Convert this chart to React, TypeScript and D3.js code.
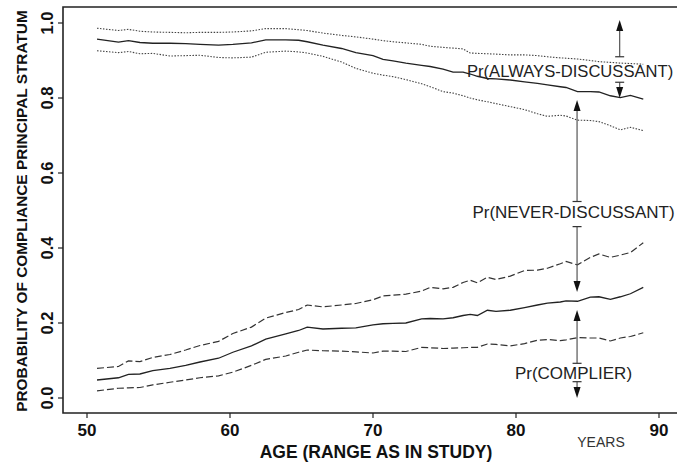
import React, { useRef, useEffect } from "react";
import * as d3 from "d3";

const ages = [
  50.7, 52.2, 52.9, 53.7, 54.6, 55.8, 56.9, 57.9, 59.2, 60.2, 61.5, 62.5, 63.9, 64.8, 65.4,
  66.5, 67.8, 68.8, 70.0, 70.7, 71.4, 72.3, 73.4, 74.0, 74.9, 75.6, 76.3, 76.8, 77.3, 78.0,
  78.6, 79.6, 80.6, 81.5, 82.2, 83.1, 83.5, 84.3, 85.2, 85.8, 86.6, 87.3, 88.0, 88.9,
];

// upper boundary: 1 - Pr(always-discussant), with band
const alwaysMid = [
  0.957, 0.949, 0.953, 0.948, 0.946, 0.946, 0.945, 0.943, 0.941, 0.943, 0.947, 0.955, 0.955, 0.954, 0.95,
  0.941, 0.932, 0.921, 0.913, 0.903, 0.899, 0.893, 0.887, 0.884, 0.877, 0.869, 0.869, 0.864, 0.858, 0.852,
  0.851, 0.848, 0.843, 0.839, 0.835, 0.83, 0.828, 0.817, 0.817, 0.816, 0.806, 0.801, 0.807, 0.797,
];
const alwaysHi = [
  0.986, 0.98, 0.983, 0.978, 0.976, 0.975, 0.974, 0.975, 0.975, 0.976, 0.979, 0.985, 0.985, 0.982, 0.98,
  0.973, 0.967, 0.963, 0.957, 0.953, 0.95, 0.947, 0.943, 0.938, 0.935, 0.933, 0.931, 0.92, 0.919, 0.918,
  0.917, 0.915, 0.915, 0.913, 0.91, 0.907, 0.906, 0.904, 0.9, 0.897, 0.895, 0.893, 0.892, 0.89,
];
const alwaysLo = [
  0.926, 0.921, 0.924, 0.918, 0.919, 0.912, 0.913, 0.914, 0.908, 0.907, 0.909, 0.922, 0.925, 0.923, 0.92,
  0.911, 0.896, 0.879, 0.866, 0.861, 0.857, 0.849, 0.838, 0.83, 0.817, 0.813, 0.806, 0.8, 0.795, 0.79,
  0.785, 0.777, 0.769, 0.758, 0.751, 0.754, 0.752, 0.741, 0.74, 0.737, 0.726, 0.715, 0.722, 0.713,
];

// lower boundary: Pr(complier), with band
const complierMid = [
  0.048, 0.054, 0.063, 0.064, 0.073, 0.079, 0.087, 0.096, 0.106, 0.122, 0.139, 0.157, 0.171, 0.18, 0.189,
  0.184, 0.186, 0.187, 0.195, 0.198, 0.199, 0.2, 0.211, 0.212, 0.211, 0.214, 0.22, 0.223, 0.22, 0.234,
  0.231, 0.234, 0.241, 0.248, 0.253, 0.256, 0.259, 0.258, 0.269, 0.27, 0.263, 0.27, 0.278, 0.295,
];
const complierHi = [
  0.079, 0.084, 0.099, 0.097, 0.108, 0.116, 0.128, 0.14, 0.151, 0.172, 0.189, 0.213, 0.228, 0.236, 0.248,
  0.243, 0.248, 0.252, 0.262, 0.272, 0.274, 0.277, 0.285, 0.295, 0.291, 0.295, 0.308, 0.314, 0.307, 0.322,
  0.316, 0.325, 0.34, 0.341, 0.346, 0.358, 0.364, 0.355, 0.375, 0.384, 0.375, 0.381, 0.388, 0.414,
];
const complierLo = [
  0.019, 0.026, 0.027, 0.028, 0.035, 0.042, 0.048, 0.054, 0.059, 0.069, 0.087, 0.103, 0.112, 0.122, 0.128,
  0.126, 0.125, 0.123, 0.12, 0.125, 0.125, 0.124, 0.135, 0.134, 0.132, 0.133, 0.134, 0.135, 0.135, 0.144,
  0.143, 0.139, 0.145, 0.154, 0.156, 0.153, 0.155, 0.161, 0.16, 0.16, 0.152, 0.16, 0.164, 0.174,
];

const xTicks = [50, 60, 70, 80, 90];
const yTicks = [0, 0.2, 0.4, 0.6, 0.8, 1.0];

// double arrows marking each stratum
const strata = [
  { label: "Pr(ALWAYS-DISCUSSANT)", age: 87.25, top: 1.008, gapTop: 0.91, mid: 0.872, gapBot: 0.842, bottom: 0.8 },
  { label: "Pr(NEVER-DISCUSSANT)", age: 84.27, top: 0.795, gapTop: 0.524, mid: 0.497, gapBot: 0.457, bottom: 0.283 },
  { label: "Pr(COMPLIER)", age: 84.27, top: 0.235, gapTop: 0.0925, mid: 0.0667, gapBot: 0.0435, bottom: 0.0 },
];
const labelAge = 84.02;

const App = () => {
  const ref = useRef(null);

  useEffect(() => {
    const width = 677;
    const height = 465;
    const svg = d3.select(ref.current).attr("width", width).attr("height", height);
    svg.selectAll("*").remove();

    const x = d3.scaleLinear().domain([50, 90]).range([87, 659]);
    const y = d3.scaleLinear().domain([0, 1]).range([398, 23]);
    const left = 63, top = 7, bottom = 413;

    svg.append("rect").attr("width", width).attr("height", height).attr("fill", "white");

    // frame (right side runs off the picture)
    svg.append("path")
      .attr("d", `M${width + 5},${top}H${left}V${bottom}H${width + 5}`)
      .attr("fill", "none").attr("stroke", "#222").attr("stroke-width", 1.6);

    const font = "'Liberation Sans', Arial, Helvetica, sans-serif";

    // x ticks
    const gx = svg.append("g");
    xTicks.forEach((t) => {
      gx.append("line").attr("x1", x(t)).attr("x2", x(t)).attr("y1", bottom).attr("y2", bottom + 5)
        .attr("stroke", "#222").attr("stroke-width", 1.2);
      gx.append("text").attr("x", x(t)).attr("y", 436).attr("text-anchor", "middle")
        .attr("font-family", font).attr("font-weight", "bold").attr("font-size", 17).attr("fill", "#111")
        .text(t);
    });

    // y ticks (labels rotated)
    const gy = svg.append("g");
    yTicks.forEach((t) => {
      gy.append("line").attr("x1", left - 5).attr("x2", left).attr("y1", y(t)).attr("y2", y(t))
        .attr("stroke", "#222").attr("stroke-width", 1.2);
      gy.append("text").attr("transform", `translate(53,${y(t)}) rotate(-90)`).attr("text-anchor", "middle")
        .attr("font-family", font).attr("font-weight", "bold").attr("font-size", 16.5).attr("fill", "#111")
        .text(d3.format(".1f")(t));
    });

    svg.append("text").attr("transform", "translate(27,211) rotate(-90)").attr("text-anchor", "middle")
      .attr("font-family", font).attr("font-weight", "bold").attr("font-size", 15.4).attr("fill", "#111")
      .text("PROBABILITY OF COMPLIANCE PRINCIPAL STRATUM");

    svg.append("text").attr("x", 376).attr("y", 458).attr("text-anchor", "middle")
      .attr("font-family", font).attr("font-weight", "bold").attr("font-size", 17.5).attr("fill", "#111")
      .text("AGE (RANGE AS IN STUDY)");

    svg.append("text").attr("x", 601).attr("y", 447).attr("text-anchor", "middle")
      .attr("font-family", font).attr("font-size", 14).attr("fill", "#333")
      .text("YEARS");

    // curves
    const line = d3.line().x((d) => x(d[0])).y((d) => y(d[1]));
    const series = [
      { v: alwaysHi, dash: "1.5,1.5", w: 1.1, c: "#444" },
      { v: alwaysMid, dash: null, w: 1.3, c: "#222" },
      { v: alwaysLo, dash: "1.5,1.5", w: 1.1, c: "#444" },
      { v: complierHi, dash: "7,3", w: 1.2, c: "#333" },
      { v: complierMid, dash: null, w: 1.3, c: "#222" },
      { v: complierLo, dash: "7,3", w: 1.2, c: "#333" },
    ];
    series.forEach((s) => {
      svg.append("path")
        .attr("d", line(ages.map((a, i) => [a, s.v[i]])))
        .attr("fill", "none").attr("stroke", s.c).attr("stroke-width", s.w)
        .attr("stroke-dasharray", s.dash);
    });

    // stratum arrows
    const head = 11, hw = 3.5, bar = 4.5;
    strata.forEach((s) => {
      const ax = x(s.age);
      const g = svg.append("g");
      const yt = y(s.top), y1 = y(s.gapTop), y2 = y(s.gapBot), yb = y(s.bottom);
      g.append("line").attr("x1", ax).attr("x2", ax).attr("y1", yt + head).attr("y2", y1)
        .attr("stroke", "#555").attr("stroke-width", 1.2);
      g.append("line").attr("x1", ax).attr("x2", ax).attr("y1", y2).attr("y2", yb - head)
        .attr("stroke", "#555").attr("stroke-width", 1.2);
      [y1, y2].forEach((yy) => {
        g.append("line").attr("x1", ax - bar).attr("x2", ax + bar).attr("y1", yy).attr("y2", yy)
          .attr("stroke", "#333").attr("stroke-width", 1.2);
      });
      g.append("path").attr("d", `M${ax},${yt}L${ax - hw},${yt + head}L${ax + hw},${yt + head}Z`).attr("fill", "#111");
      g.append("path").attr("d", `M${ax},${yb}L${ax - hw},${yb - head}L${ax + hw},${yb - head}Z`).attr("fill", "#111");
      // labels share a centre; the widest one is squeezed to stay inside the picture
      const wide = s.label.length > 20;
      g.append("text").attr("x", wide ? 467 : x(labelAge)).attr("y", y(s.mid)).attr("dy", "0.35em")
        .attr("text-anchor", wide ? "start" : "middle").attr("font-family", font).attr("font-size", wide ? 16.6 : 17)
        .attr("fill", "#222")
        .text(s.label);
    });
  }, []);

  return <svg ref={ref} style={{ position: "absolute", left: 0, top: 0 }} />;
};

export default App;
